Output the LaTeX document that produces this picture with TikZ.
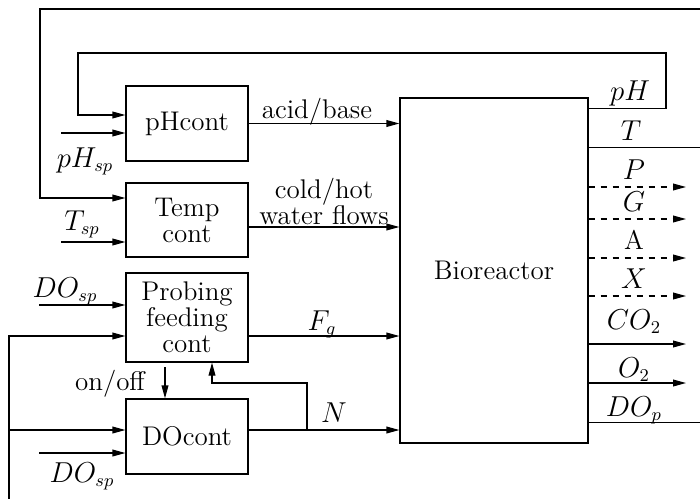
\documentclass[tikz,border=0pt]{standalone}
\usetikzlibrary{arrows.meta}
\tikzset{
  blk/.style={draw, line width=0.6pt, minimum width=61pt, align=center, inner sep=1pt},
  sig/.style={line width=0.6pt, -{Triangle[length=6.5pt,width=3.4pt]}},
  wire/.style={line width=0.6pt},
  lbl/.style={anchor=base, inner sep=0pt},
}
\begin{document}
\begin{tikzpicture}[x=0.5pt, y=-0.5pt, font=\fontsize{13.5}{13}\selectfont]
	\useasboundingbox (0,0) rectangle (700,498);
	
	% controllers and reactor
	\node[blk, minimum height=37.5pt] (ph) at (187,123.5) {pHcont};
	\node[blk, minimum height=37pt] (temp) at (187,220) {Temp\\cont};
	\node[blk, minimum height=44.5pt] (probe) at (187,317.5) {Probing\\feeding\\cont};
	\node[blk, minimum height=37.5pt] (docont) at (187,436.5) {DOcont};
	\node[blk, minimum width=94pt, minimum height=172.5pt] (bio) at (494,270.5) {Bioreactor};
	
	% set points
	\coordinate (phsp) at (61,133);
	\coordinate (tsp) at (61,242);
	\coordinate (dosp1) at (39,305);
	\coordinate (dosp2) at (39,453);
	\draw[sig] (phsp) -- (phsp -| ph.west);
	\draw[sig] (tsp) -- (tsp -| temp.west);
	\draw[sig] (dosp1) -- (dosp1 -| probe.west);
	\draw[sig] (dosp2) -- (dosp2 -| docont.west);
	\node[lbl] at (85,167) {$pH_{sp}$};
	\node[lbl] at (82,230) {$T_{sp}$};
	\node[lbl] at (65,297) {$DO_{sp}$};
	\node[lbl] at (82,482) {$DO_{sp}$};
	
	% manipulated inputs
	\coordinate (wout) at ([yshift=-3.5pt]temp.east);
	\coordinate (fout) at ([yshift=-9.25pt]probe.east);
	\coordinate (nout) at ([yshift=3.25pt]docont.east);
	\draw[sig] (ph.east) -- (ph.east -| bio.west);
	\draw[sig] (wout) -- (wout -| bio.west);
	\draw[sig] (fout) -- (fout -| bio.west);
	\draw[sig] (nout) -- (nout -| bio.west);
	\node[lbl] at (317,118) {acid/base};
	\node[inner sep=0pt, align=center] at (324,202) {cold/hot\\water flows};
	\node[lbl] at (322,330) {$F_g$};
	\node[lbl] at (334,422) {$N$};
	
	% N back to probing, on/off to DO
	\coordinate (nj) at (307,430);
	\coordinate (nk) at (212,383);
	\draw[sig] (nj) |- (nk) -- (nk |- probe.south);
	\coordinate (oo) at (165,367);
	\draw[sig] (oo) -- (oo |- docont.north);
	\node[lbl] at (110,390) {on/off};
	
	% pH loop
	\coordinate (pHo) at ([yshift=-5.5pt]bio.north east);
	\coordinate (pHr) at (666,53);
	\coordinate (pHl) at (78,53);
	\draw[sig] (pHo) -| (pHr) -- (pHl) |- ([yshift=4.25pt]ph.west);
	\node[lbl] at (630,100) {$pH$};
	
	% T loop
	\coordinate (To) at ([yshift=-25pt]bio.north east);
	\coordinate (Tr) at (704,9);
	\coordinate (Tl) at (40,9);
	\draw[sig] (To) -| (Tr) -- (Tl) |- ([yshift=11pt]temp.west);
	\node[lbl] at (631,140) {$T$};
	
	% measured outputs
	\foreach \yy/\bl/\txt/\sty in {187/179/$P$/dashed, 219/211/$G$/dashed, 258/249/A/dashed,
		296/288/$X$/dashed, 344/329/$CO_2$/solid, 383/377/$O_2$/solid} {
		\coordinate (out) at (686,\yy);
		\draw[sig,\sty] (bio.east |- out) -- (out);
		\node[lbl] at (634,\bl) {\txt};
	}
	
	% DO loop
	\coordinate (DOo) at ([yshift=10.5pt]bio.south east);
	\coordinate (Dr) at (704,506);
	\coordinate (Dl) at (9,506);
	\draw[sig] (DOo) -| (Dr) -- (Dl) |- (fout -| probe.west);
	\draw[sig] (Dl |- nout) -- ([yshift=3.25pt]docont.west);
	\node[lbl] at (634,416) {$DO_p$};
\end{tikzpicture}
\end{document}
